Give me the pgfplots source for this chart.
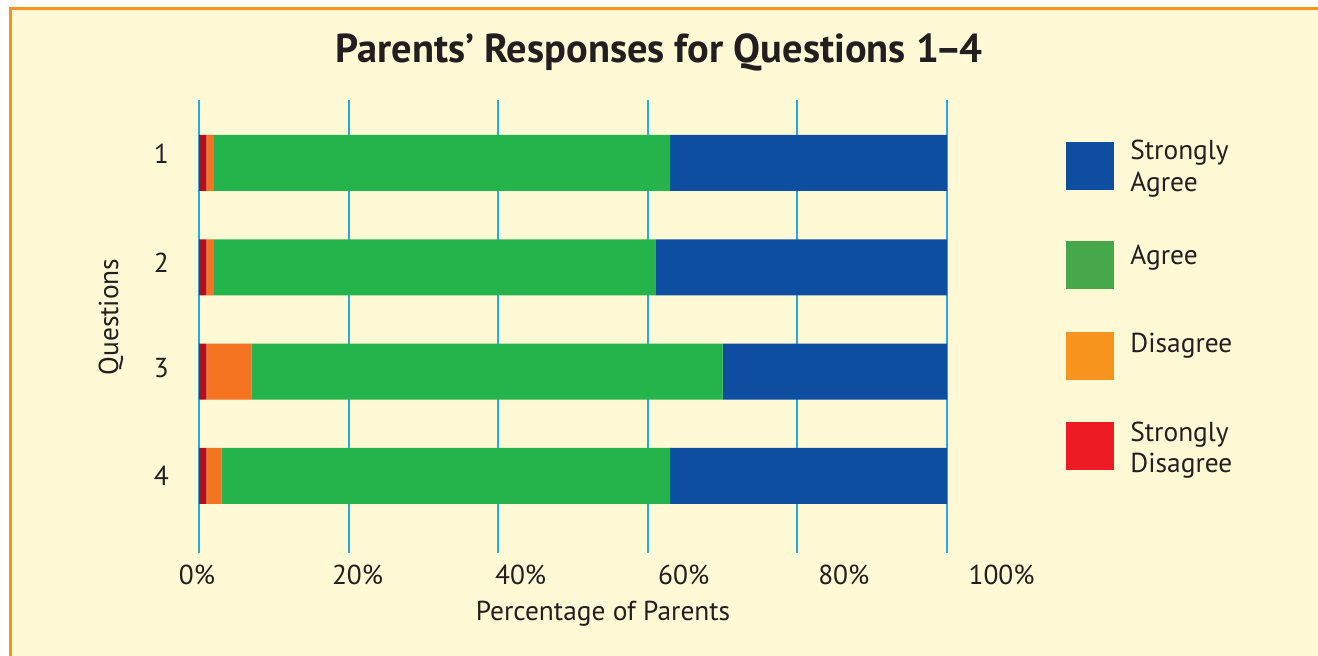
\documentclass[border=0pt]{standalone}
\usepackage{fontspec}
\setmainfont{PT Sans}
\usepackage{pgfplots}
\pgfplotsset{compat=1.18}
\definecolor{bg}{HTML}{FFF9D6}
\definecolor{frame}{HTML}{F7941D}
\definecolor{gridblue}{HTML}{27AAE1}
\definecolor{txt}{HTML}{231F20}
\definecolor{sabar}{HTML}{0D4EA1}
\definecolor{abar}{HTML}{25B34B}
\definecolor{dbar}{HTML}{F47321}
\definecolor{sdbar}{HTML}{B20F1A}
\definecolor{saleg}{HTML}{0E4DA0}
\definecolor{aleg}{HTML}{46A84A}
\definecolor{dleg}{HTML}{F7941D}
\definecolor{sdleg}{HTML}{ED1C24}
\begin{document}
\begin{tikzpicture}[x=0.5pt,y=0.5pt]
\useasboundingbox (0,0) rectangle (1318,656);
\fill[white] (0,0) rectangle (1318,656);
\fill[frame] (9,-20) rectangle (1340,649);
\fill[bg] (12,-20) rectangle (1340,646);
\begin{axis}[at={(97.63pt,51.5pt)}, anchor=south west, scale only axis,
  width=405.79pt, height=226.5pt,
  xbar stacked, bar width=28pt,
  xmin=-0.5, xmax=108, ymin=0.262, ymax=4.604,
  axis line style={draw=none}, major tick length=0pt, tick style={draw=none},
  xtick={0,20,40,60,80,100}, xticklabels={},
  xmajorgrids, major grid style={color=gridblue, line width=1pt},
  extra x ticks={-0.27,21.2,43.0,64.8,86.2,107.3},
  extra x tick labels={0\%,20\%,40\%,60\%,80\%,100\%},
  extra x tick style={grid=none, xticklabel style={anchor=base, inner sep=0pt, yshift=-16pt}},
  ytick={4.086,3.048,2.038,1.0}, yticklabels={1,2,3,4},
  yticklabel style={anchor=east, inner sep=0pt, xshift=-13pt},
  tick label style={font=\fontsize{13.7}{16}\selectfont, text=txt},
  clip=false,
]
\addplot[fill=sdbar, draw=none] coordinates {(1,4) (1,3) (1,2) (1,1)};
\addplot[fill=dbar, draw=none] coordinates {(1,4) (1,3) (6,2) (2,1)};
\addplot[fill=abar, draw=none] coordinates {(61,4) (59,3) (63,2) (60,1)};
\addplot[fill=sabar, draw=none] coordinates {(37,4) (39,3) (30,2) (37,1)};
\end{axis}
% title and axis labels
\node[anchor=base, text=txt, font=\bfseries\fontsize{20.2}{24}\selectfont] at (659,593) {Parents’ Responses for Questions 1\kern-1.5pt–\kern-1.5pt4};
\node[anchor=base, text=txt, font=\fontsize{13.7}{16}\selectfont] at (603,35) {Percentage of Parents};
\node[rotate=90, text=txt, font=\fontsize{13.7}{16}\selectfont] at (111,339) {Questions};
% legend
\fill[saleg] (1066,466) rectangle (1114,514);
\fill[aleg] (1066,367) rectangle (1114,415);
\fill[dleg] (1066,276) rectangle (1114,324);
\fill[sdleg] (1066,186) rectangle (1114,234);
\begin{scope}[every node/.style={anchor=base west, inner sep=0pt, text=txt, font=\fontsize{13.7}{16}\selectfont}]
\node at (1130,496) {Strongly};
\node at (1130,464) {Agree};
\node at (1130,391) {Agree};
\node at (1130,303) {Disagree};
\node at (1130,214) {Strongly};
\node at (1130,183) {Disagree};
\end{scope}
\end{tikzpicture}
\end{document}
